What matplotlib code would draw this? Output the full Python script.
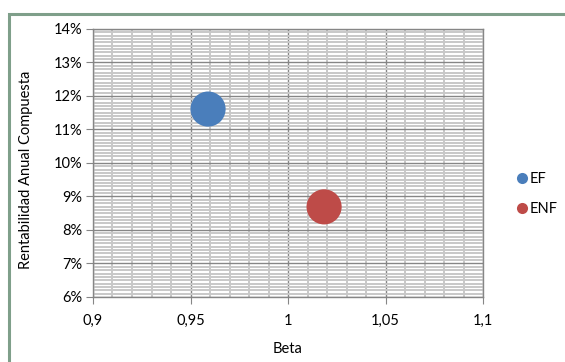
import numpy as np
import matplotlib.pyplot as plt
from matplotlib.ticker import MultipleLocator, FuncFormatter
from matplotlib.lines import Line2D
from matplotlib.patches import Rectangle

plt.rcParams['font.family'] = ['Lato', 'DejaVu Sans']

# portfolios: beta vs compound annual return
series = ['EF', 'ENF']
beta = [0.959, 1.0185]
rentab = [0.1161, 0.0869]
colors = ['#4a7ebb', '#be4b48']

fig = plt.figure(figsize=(5.65, 3.62), dpi=100)
ax = fig.add_axes([0.1646, 0.1796, 0.6903, 0.7403])

for b, r, c in zip(beta, rentab, colors):
    ax.scatter(b, r, s=640, color=c, edgecolors='none', zorder=3)

ax.set_xlim(0.9, 1.1)
ax.set_ylim(0.06, 0.14)
ax.xaxis.set_major_locator(MultipleLocator(0.05))
ax.xaxis.set_minor_locator(MultipleLocator(0.01))
ax.yaxis.set_major_locator(MultipleLocator(0.01))
ax.yaxis.set_minor_locator(MultipleLocator(0.001))

def fmt_x(v, pos):
    s = ('%.2f' % v).rstrip('0').rstrip('.')
    return s.replace('.', ',')

ax.xaxis.set_major_formatter(FuncFormatter(fmt_x))
ax.yaxis.set_major_formatter(FuncFormatter(lambda v, p: '%d%%' % round(v * 100)))

ax.grid(which='minor', color='#c8c8c8', linewidth=1.4, zorder=0)
ax.grid(which='major', color='#868686', linewidth=1.0, zorder=1)
ax.set_axisbelow(True)

for side in ax.spines:
    ax.spines[side].set_color('#868686')
    ax.spines[side].set_linewidth(1.0)

fs = 10.5
ax.tick_params(which='major', length=5, color='#868686', labelsize=fs, pad=3)
ax.tick_params(which='minor', length=0)
ax.tick_params(axis='x', pad=7)

ax.set_xlabel('Beta', fontsize=fs, labelpad=10)
ax.set_ylabel('Rentabilidad Anual Compuesta', fontsize=fs)
ax.yaxis.set_label_coords(-0.155, 0.474)

handles = [Line2D([0], [0], marker='o', linestyle='none', markersize=8,
                  markerfacecolor=c, markeredgecolor='none') for c in colors]
fig.legend(handles, series, loc='center left', bbox_to_anchor=(0.9, 0.464),
           frameon=False, fontsize=fs, handletextpad=0.05, labelspacing=1.1,
           handlelength=1.0, borderaxespad=0)

# outer chart frame
frame = Rectangle((8.5 / 565, -0.05), 1.2, 1 - 13.5 / 362 + 0.05,
                  transform=fig.transFigure, fill=False,
                  edgecolor='#7f9f8a', linewidth=2.2, clip_on=False)
fig.patches.append(frame)

fig.savefig('out.png', dpi=100)
